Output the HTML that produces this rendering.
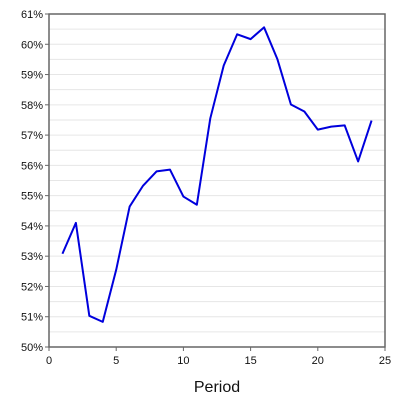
<!DOCTYPE html>
<html><head><meta charset="utf-8"><style>
body{margin:0;background:#fff}
svg text{font-family:"Liberation Sans",sans-serif;fill:#111}
</style></head><body>
<svg id="chart" width="400" height="400"></svg>
<script>
const periods=[1,2,3,4,5,6,7,8,9,10,11,12,13,14,15,16,17,18,19,20,21,22,23,24];
const values=[53.08,54.1,51.03,50.83,52.55,54.64,55.33,55.8,55.86,54.97,54.7,57.55,59.3,60.33,60.17,60.56,59.5,58.01,57.78,57.18,57.28,57.32,56.13,57.48];
const yTicks=[50,51,52,53,54,55,56,57,58,59,60,61];
const xTicks=[0,5,10,15,20,25];
const L=49,R=385,T=14,B=347;
const xs=v=>L+(v-0)/25*(R-L);
const ys=v=>B-(v-50)/11*(B-T);
const svg=document.getElementById('chart');
const NS='http://www.w3.org/2000/svg';
function mk(t,a){const e=document.createElementNS(NS,t);for(const k in a)e.setAttribute(k,a[k]);svg.appendChild(e);return e;}
for(let v=50.5;v<61;v+=0.5){const g=mk('line',{x1:L,x2:R,y1:ys(v),y2:ys(v),stroke:'#e6e6e6','stroke-width':1});

}
yTicks.forEach(v=>{const tk=mk('line',{x1:L-4,x2:L,y1:ys(v),y2:ys(v),stroke:'#666'});


const t=mk('text',{x:L-6,y:ys(v)+4,'text-anchor':'end','font-size':11});t.textContent=v+'%';

});
xTicks.forEach(v=>{const tk=mk('line',{x1:xs(v),x2:xs(v),y1:B,y2:B+4,stroke:'#666'});


const t=mk('text',{x:xs(v),y:B+17,'text-anchor':'middle','font-size':11});t.textContent=v;

});
const fr=mk('rect',{x:L,y:T,width:R-L,height:B-T,fill:'none',stroke:'#666','stroke-width':1.5});


const pl=mk('polyline',{points:periods.map((p,i)=>xs(p)+','+ys(values[i])).join(' '),fill:'none',stroke:'#0000dd','stroke-width':2,'stroke-linejoin':'round'});


const xt=mk('text',{x:(L+R)/2,y:392,'text-anchor':'middle','font-size':16});xt.textContent='Period';


</script>
</body></html>
